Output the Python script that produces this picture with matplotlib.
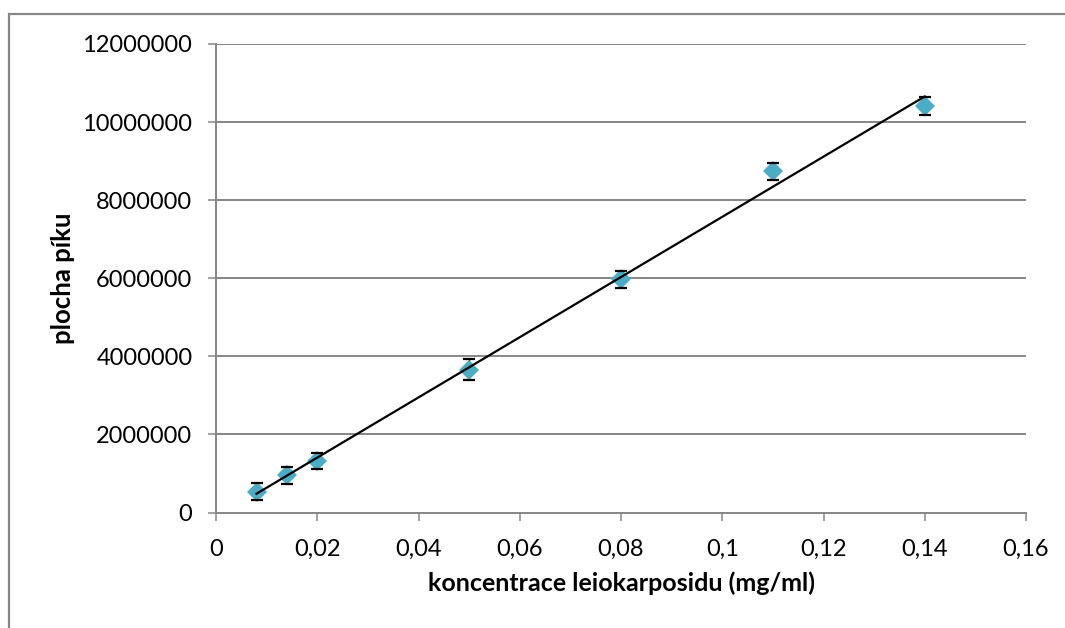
import matplotlib
matplotlib.use("Agg")
import matplotlib.pyplot as plt
import numpy as np
from matplotlib.patches import Rectangle

# Data
concentration = [0.008, 0.014, 0.02, 0.05, 0.08, 0.11, 0.14]
peak_area = [530000, 950000, 1320000, 3660000, 5970000, 8740000, 10410000]
peak_err = [220000, 210000, 210000, 270000, 210000, 220000, 220000]

x_ticks = [0, 0.02, 0.04, 0.06, 0.08, 0.1, 0.12, 0.14, 0.16]
x_tick_labels = ["0", "0,02", "0,04", "0,06", "0,08", "0,1", "0,12", "0,14", "0,16"]
y_ticks = [0, 2000000, 4000000, 6000000, 8000000, 10000000, 12000000]
y_tick_labels = ["0", "2000000", "4000000", "6000000", "8000000", "10000000", "12000000"]

x_label = "koncentrace leiokarposidu (mg/ml)"
y_label = "plocha píku"

plt.rcParams['font.family'] = ['Lato', 'DejaVu Sans']

W, H = 1065, 628
fig = plt.figure(figsize=(W / 100, H / 100), dpi=100)
ax = fig.add_axes([216 / W, 1 - 512.5 / H, (1026 - 216) / W, (512.5 - 44) / H])

grid_col = "#868686"
ax.set_xlim(0, 0.16)
ax.set_ylim(0, 12000000)
ax.set_yticks(y_ticks)
ax.set_yticklabels(y_tick_labels)
ax.set_xticks(x_ticks)
ax.set_xticklabels(x_tick_labels)
ax.yaxis.grid(True, color=grid_col, linewidth=1.4)
ax.set_axisbelow(True)
for s in ["top", "right"]:
    ax.spines[s].set_visible(False)
for s in ["left", "bottom"]:
    ax.spines[s].set_color(grid_col)
    ax.spines[s].set_linewidth(1.4)
ax.tick_params(axis="both", direction="out", length=6, width=1.1, color=grid_col,
               labelsize=17, labelcolor="black")
ax.tick_params(axis="x", pad=13)
ax.tick_params(axis="y", pad=11)

# Trendline (linear fit)
coef = np.polyfit(concentration, peak_area, 1)
xx = np.array([min(concentration), max(concentration)])
ax.plot(xx, np.polyval(coef, xx), color="black", linewidth=1.6, zorder=5)

# Error bars: stems behind markers, caps on top
eb = ax.errorbar(concentration, peak_area, yerr=peak_err, fmt="none",
                 ecolor="black", elinewidth=1.0, capsize=4.5, capthick=1.6, zorder=2)
for cap in eb[1]:
    cap.set_zorder(4)

# Markers
ax.plot(concentration, peak_area, "D", color="#4BACC6", markersize=10.5,
        markeredgewidth=0, zorder=3)

fig.text(621 / W, 1 - 583 / H, x_label, fontsize=18, fontweight="bold",
         ha="center", va="center")
fig.text(63 / W, 1 - 278 / H, y_label, fontsize=18.5, fontweight="bold",
         ha="center", va="center", rotation=90)

# Outer chart border
fig.patches.append(Rectangle((9 / W, -0.05), 1.2, 1 - 14 / H + 0.05, transform=fig.transFigure,
                             fill=False, edgecolor="#878787", linewidth=1.6))

fig.savefig("out.png", dpi=100)
